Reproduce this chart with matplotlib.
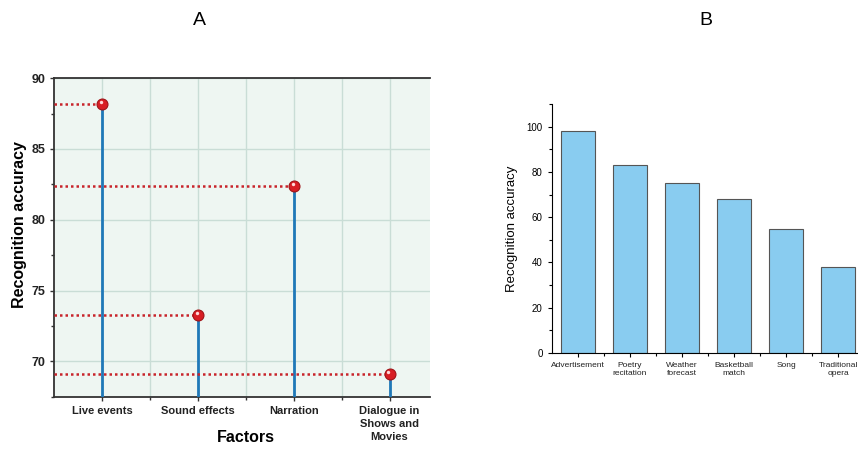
import matplotlib.pyplot as plt
import numpy as np
from matplotlib.ticker import MultipleLocator

factors = ["Live events", "Sound effects", "Narration", "Dialogue in\nShows and\nMovies"]
factor_acc = [88.2, 73.3, 82.4, 69.1]

genres = ["Advertisement", "Poetry\nrecitation", "Weather\nforecast", "Basketball\nmatch", "Song", "Traditional\nopera"]
genre_acc = [98, 83, 75, 68, 55, 38]

plt.rcParams["font.family"] = ["Liberation Sans", "DejaVu Sans"]

fig = plt.figure(figsize=(8.58, 4.49), dpi=100)

# ---- panel A: lollipop
axA = fig.add_axes([0.063, 0.116, 0.438, 0.71])
axA.set_facecolor("#eef6f2")
x = np.arange(len(factors))
ymin = 67.5
axA.set_xlim(-0.5, 3.42)
axA.set_ylim(ymin, 90)

for xi, v in zip(x, factor_acc):
    axA.plot([-0.5, xi], [v, v], ls=(0, (1, 1.2)), color="#c8242b", lw=1.8, zorder=3)
    axA.plot([xi, xi], [ymin, v], color="#1f78b8", lw=2, zorder=3)
axA.scatter(x, factor_acc, s=62, color="#d81e24", edgecolor="#a01418", linewidth=0.8, zorder=5)
axA.scatter(x - 0.012, np.array(factor_acc) + 0.15, s=6, color="#ffd8d8", linewidth=0, zorder=6)

axA.set_xticks(x)
axA.set_xticks(x[:-1] + 0.5, minor=True)
axA.set_xticklabels(factors, fontsize=8, fontweight="bold", color="#222222", va="top", linespacing=1.35)
axA.yaxis.set_minor_locator(MultipleLocator(2.5))
axA.set_yticks([70, 75, 80, 85, 90])
axA.set_yticklabels(["70", "75", "80", "85", "90"], fontsize=9, fontweight="bold", color="#222222")
axA.grid(True, which="major", color="#c9ddd6", lw=1)
axA.grid(True, which="minor", axis="x", color="#c9ddd6", lw=1)
axA.set_axisbelow(True)
axA.tick_params(which="both", direction="out", length=3, width=1, color="#333333")
axA.tick_params(which="minor", length=2)
for s in ["left", "bottom", "top"]:
    axA.spines[s].set_color("#333333")
    axA.spines[s].set_linewidth(1.3)
axA.spines["right"].set_visible(False)
axA.set_xlabel("Factors", fontsize=11.5, fontweight="bold")
axA.xaxis.set_label_coords(0.51, -0.105)
axA.set_ylabel("Recognition accuracy", fontsize=11.5, fontweight="bold")
axA.yaxis.set_label_coords(-0.072, 0.54)
fig.text(0.233, 0.955, "A", fontsize=14, ha="center", va="center")

# ---- panel B: bar chart
axB = fig.add_axes([0.643, 0.214, 0.357, 0.554])
xb = np.arange(len(genres))
axB.bar(xb, genre_acc, width=0.66, color="#89ccf0", edgecolor="#555555", linewidth=0.8)
axB.set_xlim(-0.5, 5.38)
axB.set_ylim(0, 110)
axB.set_xticks(xb)
axB.set_xticks(xb[:-1] + 0.5, minor=True)
axB.set_xticklabels(genres, color="#222222")
axB.yaxis.set_major_locator(MultipleLocator(20))
axB.yaxis.set_minor_locator(MultipleLocator(10))
axB.tick_params(which="both", direction="out", length=3, width=0.8, labelsize=7)
axB.tick_params(axis="x", labelsize=6)
axB.tick_params(which="minor", length=2)
axB.spines["top"].set_visible(False)
axB.spines["right"].set_visible(False)
axB.set_ylabel("Recognition accuracy", fontsize=9.5, labelpad=6)
fig.text(0.823, 0.955, "B", fontsize=14, ha="center", va="center")

fig.savefig("out.png", dpi=100)
